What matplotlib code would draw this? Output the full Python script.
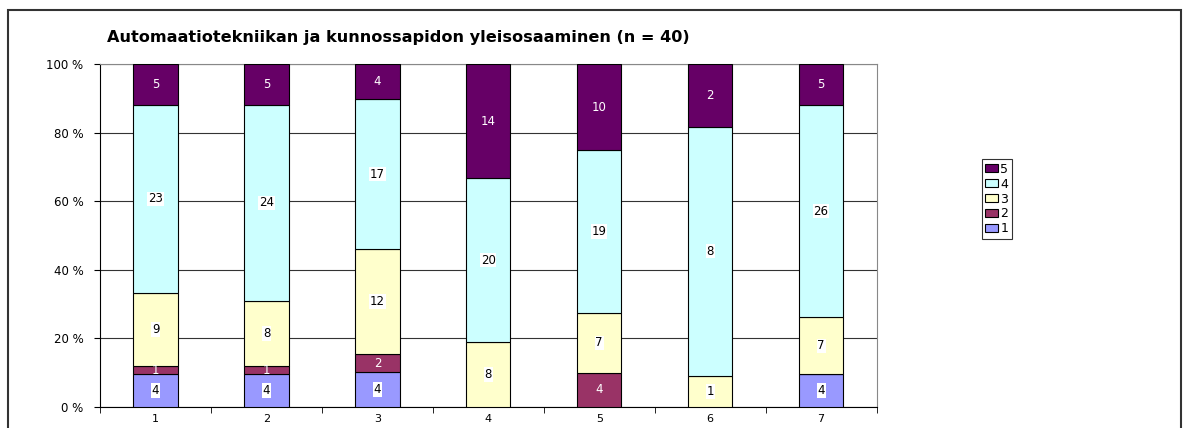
import numpy as np
import matplotlib.pyplot as plt
from matplotlib.patches import Rectangle

plt.rcParams['font.family'] = ['DejaVu Sans']

categories = ['1', '2', '3', '4', '5', '6', '7']
levels = ['1', '2', '3', '4', '5']
counts = {
    '1': [4, 4, 4, 0, 0, 0, 4],
    '2': [1, 1, 2, 0, 4, 0, 0],
    '3': [9, 8, 12, 8, 7, 1, 7],
    '4': [23, 24, 17, 20, 19, 8, 26],
    '5': [5, 5, 4, 14, 10, 2, 5],
}
colors = {'1': '#9999FF', '2': '#993366', '3': '#FFFFCC', '4': '#CCFFFF', '5': '#660066'}
dark = {'2', '5'}

fig = plt.figure(figsize=(11.91, 4.28), dpi=100)
ax = fig.add_axes([0.084, 0.049, 0.652, 0.801])

# outer frame of the chart
fig.patches.append(Rectangle((0.007, -0.05), 0.985, 1.027, transform=fig.transFigure,
                             fill=False, edgecolor='#333333', linewidth=1.5))

data = np.array([counts[l] for l in levels], dtype=float)
totals = data.sum(axis=0)
pct = data / totals * 100
x = np.arange(len(categories))
bottom = np.zeros(len(categories))
handles = []
for i, l in enumerate(levels):
    b = ax.bar(x, pct[i], 0.4, bottom=bottom, color=colors[l], edgecolor='black',
               linewidth=0.8, label=l, zorder=3)
    handles.append(b)
    for j in range(len(categories)):
        if data[i, j] > 0:
            yc = bottom[j] + pct[i, j] / 2
            if l in dark:
                ax.text(x[j], yc, str(int(data[i, j])), ha='center', va='center',
                        fontsize=8.5, color='white', zorder=4)
            else:
                ax.text(x[j], yc, str(int(data[i, j])), ha='center', va='center',
                        fontsize=8.5, color='black', zorder=4,
                        bbox=dict(facecolor='white', edgecolor='none', pad=0.5))
    bottom += pct[i]

ax.set_xlim(-0.5, len(categories) - 0.5)
ax.set_ylim(0, 100)
ax.set_yticks(np.arange(0, 101, 20))
ax.set_yticklabels([f'{v} %' for v in range(0, 101, 20)], fontsize=8.5)
ax.set_xticks(x)
ax.set_xticklabels(categories, fontsize=8)
ax.set_xticks(np.arange(-0.5, len(categories)), minor=True)
ax.tick_params(axis='x', which='major', length=0, pad=5)
ax.tick_params(axis='x', which='minor', length=4, direction='out')
ax.tick_params(axis='y', length=4, direction='out', pad=8)
ax.yaxis.grid(True, color='#333333', linewidth=0.8, zorder=0)
for s in ['top', 'right']:
    ax.spines[s].set_color('#888888')
ax.spines['left'].set_color('black')
ax.spines['bottom'].set_color('black')

fig.text(0.09, 0.913, 'Automaatiotekniikan ja kunnossapidon yleisosaaminen (n = 40)',
         fontsize=11.6, fontweight='bold', ha='left', va='center')

leg = fig.legend(handles[::-1], levels[::-1], loc='center', bbox_to_anchor=(0.837, 0.535),
                 fontsize=9, frameon=True, fancybox=False, edgecolor='black',
                 handlelength=1.0, handleheight=0.6, handletextpad=0.2,
                 labelspacing=0.15, borderpad=0.3, borderaxespad=0)
leg.get_frame().set_linewidth(0.8)

fig.savefig('out.png', dpi=100)
